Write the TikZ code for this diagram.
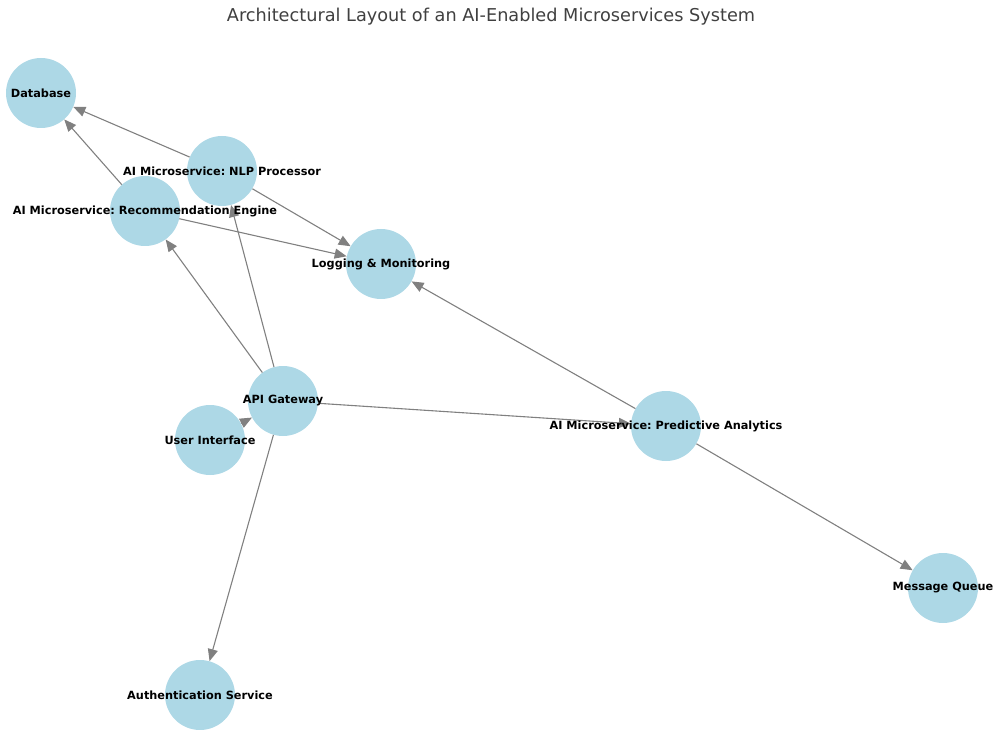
\documentclass[tikz,border=0pt]{standalone}
\usepackage{fontspec}
\setmainfont{DejaVu Sans}
\usetikzlibrary{arrows.meta}
\definecolor{nodeblue}{RGB}{173,216,230}
\definecolor{edgegray}{RGB}{128,128,128}
\definecolor{titlegray}{RGB}{64,64,64}
\frenchspacing

\begin{document}
\begin{tikzpicture}[x=1pt,y=-1pt]
\tikzstyle{vertex}=[circle,fill=nodeblue,minimum size=70pt,inner sep=0pt]
\tikzstyle{label}=[font=\fontsize{11.3}{12}\selectfont\bfseries,inner sep=0pt]
\tikzstyle{link}=[draw=edgegray,line width=1.1pt,-{Triangle[length=12pt,width=10pt]}]
\useasboundingbox (0,0) rectangle (994,730);
\node[text=titlegray,font=\fontsize{17.7}{19}\selectfont] (title) at (491,17) {Architectural Layout of an AI-Enabled Microservices System};
\node[vertex] (db) at (41,93) {};
\node[vertex] (nlp) at (222,171) {};
\node[vertex] (rec) at (145,211) {};
\node[vertex] (log) at (381,264) {};
\node[vertex] (api) at (283,401) {};
\node[vertex] (ui) at (210,440) {};
\node[vertex] (pred) at (666,426) {};
\node[vertex] (mq) at (943,588) {};
\node[vertex] (auth) at (200,695) {};
\draw[link] (nlp) -- (db);
\draw[link] (rec) -- (db);
\draw[link] (nlp) -- (log);
\draw[link] (rec) -- (log);
\draw[link] (api) -- (nlp);
\draw[link] (api) -- (rec);
\draw[link] (api) -- (pred);
\draw[link] (api) -- (auth);
\draw[link] (ui) -- (api);
\draw[link] (pred) -- (log);
\draw[link] (pred) -- (mq);
\node[label] at (db) {Database};
\node[label] at (nlp) {AI Microservice: NLP Processor};
\node[label] at (rec) {AI Microservice: Recommendation Engine};
\node[label] at (log) {Logging \& Monitoring};
\node[label] at (api) {API Gateway};
\node[label] at (ui) {User Interface};
\node[label] at (pred) {AI Microservice: Predictive Analytics};
\node[label] at (mq) {Message Queue};
\node[label] at (auth) {Authentication Service};
\end{tikzpicture}
\end{document}
